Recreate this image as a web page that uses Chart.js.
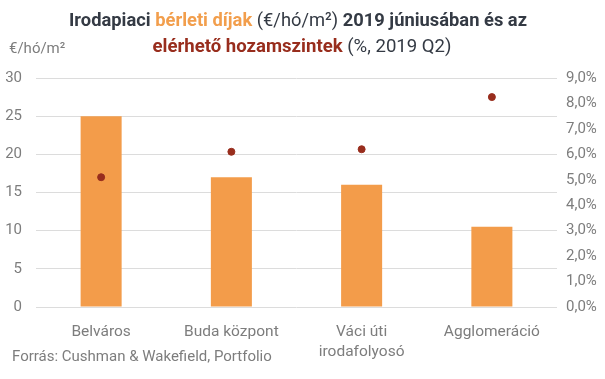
<!DOCTYPE html>
<html>
<head>
<meta charset="utf-8">
<script src="https://cdn.jsdelivr.net/npm/chart.js@4"></script>
<style>
  html, body { margin: 0; padding: 0; background: #fff; }
  #wrap { width: 605px; height: 379px; position: relative; }
</style>
</head>
<body>
<div id="wrap"><canvas id="chart"></canvas></div>
<script>
// data
const categories = ['Belváros', 'Buda központ', ['Váci úti', 'irodafolyosó'], 'Agglomeráció'];
const rents = [25, 17, 16, 10.5];          // €/hó/m2, left axis
const yields = [5.1, 6.1, 6.2, 8.25];      // %, right axis
const titleLine1 = [
  { text: 'Irodapiaci ', color: '#343a44', bold: true },
  { text: 'bérleti díjak', color: '#f29e4c', bold: true },
  { text: ' (€/hó/m²) ', color: '#343a44', bold: false },
  { text: '2019 júniusában és az', color: '#343a44', bold: true }
];
const titleLine2 = [
  { text: 'elérhető hozamszintek', color: '#982d1d', bold: true },
  { text: ' (%, 2019 Q2)', color: '#343a44', bold: false }
];
const unitLabel = '€/hó/m²';
const sourceText = 'Forrás: Cushman & Wakefield, Portfolio';

const barColor = '#f39c4a';
const dotColor = '#982d1d';
const tickColor = '#7d7d7d';

// draws one title line, squeezed horizontally to look like a condensed face
function drawRichLine(ctx, parts, cx, cy, targetWidth, size) {
  let total = 0;
  parts.forEach(p => {
    ctx.font = (p.bold ? 'bold ' : '') + size + 'px Roboto';
    p.w = ctx.measureText(p.text).width;
    total += p.w;
  });
  const sx = targetWidth / total;
  ctx.save();
  ctx.translate(cx - targetWidth / 2, cy);
  ctx.scale(sx, 1);
  let x = 0;
  parts.forEach(p => {
    ctx.font = (p.bold ? 'bold ' : '') + size + 'px Roboto';
    ctx.fillStyle = p.color;
    ctx.fillText(p.text, x, 0);
    x += p.w;
  });
  ctx.restore();
}

const textPlugin = {
  id: 'texts',
  afterDraw(chart) {
    const ctx = chart.ctx;
    ctx.save();
    ctx.textBaseline = 'middle';
    ctx.textAlign = 'left';
    drawRichLine(ctx, titleLine1, 298, 21, 458, 19);
    drawRichLine(ctx, titleLine2, 302, 47, 299, 19);
    ctx.font = '15px Roboto';
    ctx.fillStyle = tickColor;
    ctx.fillText(unitLabel, 9, 49);
    ctx.fillText(sourceText, 12, 357);
    ctx.restore();
  }
};

const ctx = document.getElementById('chart').getContext('2d');
new Chart(ctx, {
  type: 'bar',
  data: {
    labels: categories,
    datasets: [
      {
        type: 'line',
        data: yields,
        yAxisID: 'y1',
        showLine: false,
        pointRadius: 3.5,
        pointHoverRadius: 3.5,
        pointBackgroundColor: dotColor,
        pointBorderColor: dotColor,
        order: 0
      },
      {
        data: rents,
        yAxisID: 'y',
        backgroundColor: barColor,
        barPercentage: 0.315,
        categoryPercentage: 1,
        order: 1
      }
    ]
  },
  options: {
    responsive: true,
    maintainAspectRatio: false,
    animation: false,
    layout: { padding: { top: 78, bottom: 0, left: 0, right: 0 } },
    plugins: {
      legend: { display: false },
      tooltip: { enabled: false }
    },
    scales: {
      x: {
        grid: { display: false },
        border: { display: false },
        ticks: {
          color: tickColor,
          font: { family: 'Roboto', size: 15.5, lineHeight: 1.3 },
          padding: 7,
          maxRotation: 0
        },
        afterFit(scale) { scale.height = 72; }
      },
      y: {
        position: 'left',
        min: 0,
        max: 30,
        ticks: {
          stepSize: 5,
          color: tickColor,
          font: { family: 'Roboto', size: 15 },
          padding: 14
        },
        grid: { color: '#dcdcdc', drawTicks: false },
        border: { display: false },
        afterFit(scale) { scale.width = 36; }
      },
      y1: {
        position: 'right',
        min: 0,
        max: 9,
        ticks: {
          stepSize: 1,
          color: tickColor,
          font: { family: 'Roboto', size: 15 },
          padding: 9,
          callback: v => v.toFixed(1).replace('.', ',') + '%'
        },
        grid: { display: false, drawTicks: false },
        border: { display: false },
        afterFit(scale) { scale.width = 48; }
      }
    }
  },
  plugins: [textPlugin]
});
</script>
</body>
</html>
